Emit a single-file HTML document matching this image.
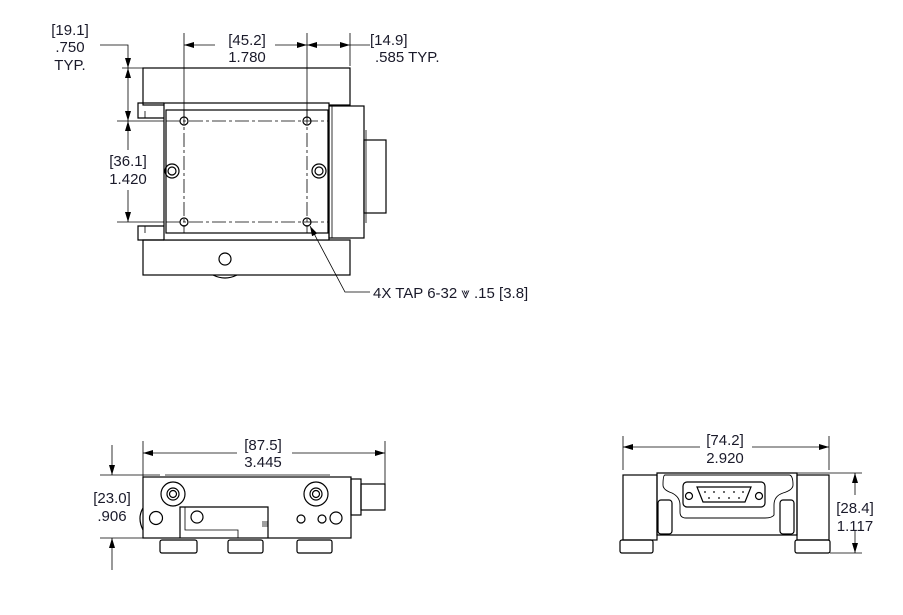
<!DOCTYPE html>
<html><head><meta charset="utf-8"><style>
html,body{margin:0;padding:0;background:#fff;}
svg{display:block}
text{font-family:"Liberation Sans","DejaVu Sans",sans-serif;font-size:15px;fill:#1a1a2a}
.c{text-anchor:middle}
</style></head><body>
<svg width="903" height="615" viewBox="0 0 903 615" xmlns="http://www.w3.org/2000/svg">
<defs>
<marker id="a" viewBox="0 0 10 6" refX="10" refY="3" markerWidth="10" markerHeight="6" orient="auto-start-reverse" markerUnits="userSpaceOnUse"><path d="M0,0L10,3L0,6z" fill="#000"/></marker>
</defs>
<g fill="none" stroke="#000" stroke-width="1.2">
<rect x="143" y="68" width="207" height="37"/>
<rect x="143" y="240" width="207" height="35"/>
<rect x="164" y="103" width="165" height="137" fill="#fff"/>
<rect x="166" y="110" width="162" height="123"/>
<path d="M164,103 H138 V118 H164 M164,226 H138 V240 H164"/>
<path d="M145,118 V111 M145,226 V233" stroke-width="0.8"/>
<rect x="329" y="106" width="35" height="132"/>
<path d="M332,106 V238" stroke-width="0.8"/>
<rect x="364" y="140" width="22" height="73"/>
<path d="M366,130 V223" stroke-width="0.8"/>
<circle cx="225" cy="259" r="6"/>
<path d="M213,275 q12,6 24,0" />
<circle cx="184" cy="121" r="4"/><circle cx="307" cy="121" r="4"/>
<circle cx="184" cy="222" r="4"/><circle cx="307" cy="222" r="4"/>
<circle cx="172" cy="171" r="7"/><circle cx="172" cy="171" r="4"/>
<circle cx="319" cy="171" r="7"/><circle cx="319" cy="171" r="4"/>
<g stroke-width="0.8" stroke-dasharray="14,3,3,3">
<path d="M184,110 V233 M307,110 V233 M166,121 H328 M166,222 H328"/>
</g>
<g stroke-width="0.8">
<path d="M184,33 V117 M307,33 V117 M350,33 V66"/>
<path d="M184,45 H215" marker-start="url(#a)"/>
<path d="M275,45 H307" marker-end="url(#a)"/>
<path d="M307,45 H350" marker-start="url(#a)" marker-end="url(#a)"/>
<path d="M370,45 H350"/>
<path d="M100,45 H128 V68" marker-end="url(#a)"/>
<path d="M128,100 V68" marker-end="url(#a)"/>
<path d="M128,100 V121" marker-end="url(#a)"/>
<path d="M128,150 V121" marker-end="url(#a)"/>
<path d="M128,190 V222" marker-end="url(#a)"/>
<path d="M122,68 H143 M117,121 H164 M117,222 H164"/>
<path d="M370,292 H345 L310,226" marker-end="url(#a)"/>
</g>
<rect x="143" y="477" width="208" height="61"/>
<path d="M165,475 H330" stroke-width="0.8"/>
<rect x="351" y="479" width="10" height="36"/>
<rect x="361" y="484" width="24" height="26"/>
<path d="M143,508 q-6,10 0,22" />
<circle cx="173" cy="494" r="12"/><circle cx="173" cy="494" r="6"/><circle cx="173" cy="494" r="3.5"/>
<circle cx="316" cy="494" r="12"/><circle cx="316" cy="494" r="6"/><circle cx="316" cy="494" r="3.5"/>
<circle cx="156" cy="518" r="6.5"/>
<path d="M180,538 V507 H268 V538"/>
<path d="M185,507 V530 H238 V538" stroke-width="0.8"/>
<circle cx="197" cy="517" r="6"/>
<circle cx="301" cy="519" r="4"/><circle cx="322" cy="519" r="4"/><circle cx="336" cy="518" r="6"/>
<path d="M262,522 h6 M262,524 h6 M262,526 h6" stroke-width="0.7"/>
<rect x="160" y="540" width="37" height="13" rx="2"/>
<rect x="228" y="540" width="35" height="13" rx="2"/>
<rect x="297" y="540" width="35" height="13" rx="2"/>
<g stroke-width="0.8">
<path d="M143,441 V477 M385,441 V485"/>
<path d="M237,453 H143" marker-end="url(#a)"/>
<path d="M292,453 H385" marker-end="url(#a)"/>
<path d="M100,475 H160 M100,538 H145"/>
<path d="M112,445 V475" marker-end="url(#a)"/>
<path d="M112,570 V538" marker-end="url(#a)"/>
</g>
<rect x="623" y="475" width="34" height="65"/>
<rect x="797" y="475" width="32" height="65"/>
<path d="M657,473 H797 V535 H657 Z"/>
<path d="M665,475 H789 Q793,475 793,485 Q793,490 783,493 Q774,496 774,505 V515 Q772,518 765,518 H686 Q680,518 680,512 V505 Q680,497 672,493 Q663,490 663,485 Q663,475 665,475Z" stroke-width="0.9"/>
<rect x="683" y="482" width="82" height="25" rx="4"/>
<path d="M697,487 H751 L745,502 H703 Z"/>
<circle cx="689" cy="496" r="3.5"/><circle cx="759" cy="496" r="3.5"/>
<rect x="658" y="500" width="14" height="34" rx="3"/>
<rect x="780" y="500" width="14" height="34" rx="3"/>
<rect x="620" y="540" width="33" height="13" rx="2"/>
<rect x="795" y="540" width="35" height="13" rx="2"/>
<g stroke-width="0.8">
<path d="M623,436 V470 M829,436 V470"/>
<path d="M700,447 H623" marker-end="url(#a)"/>
<path d="M752,447 H829" marker-end="url(#a)"/>
<path d="M797,473 H862 M830,553 H862"/>
<path d="M855,495 V473" marker-end="url(#a)"/>
<path d="M855,530 V553" marker-end="url(#a)"/>
</g>
</g>
<g fill="#000">
<circle cx="705" cy="492" r="0.9"/><circle cx="714" cy="492" r="0.9"/><circle cx="724" cy="492" r="0.9"/><circle cx="734" cy="492" r="0.9"/><circle cx="743" cy="492" r="0.9"/>
<circle cx="709" cy="498" r="0.9"/><circle cx="719" cy="498" r="0.9"/><circle cx="729" cy="498" r="0.9"/><circle cx="739" cy="498" r="0.9"/>
</g>
<text class="c" x="70" y="35">[19.1]</text>
<text class="c" x="70" y="52">.750</text>
<text class="c" x="70" y="70">TYP.</text>
<text class="c" x="247" y="45">[45.2]</text>
<text class="c" x="247" y="62">1.780</text>
<text x="370" y="45">[14.9]</text>
<text x="375" y="62">.585  TYP.</text>
<text class="c" x="128" y="166">[36.1]</text>
<text class="c" x="128" y="184">1.420</text>
<text x="373" y="298">4X TAP 6-32 ⩔ .15 [3.8]</text>
<text class="c" x="263" y="450">[87.5]</text>
<text class="c" x="263" y="467">3.445</text>
<text class="c" x="112" y="503">[23.0]</text>
<text class="c" x="112" y="521">.906</text>
<text class="c" x="725" y="445">[74.2]</text>
<text class="c" x="725" y="463">2.920</text>
<text class="c" x="855" y="513">[28.4]</text>
<text class="c" x="855" y="531">1.117</text>
</svg>
</body></html>
